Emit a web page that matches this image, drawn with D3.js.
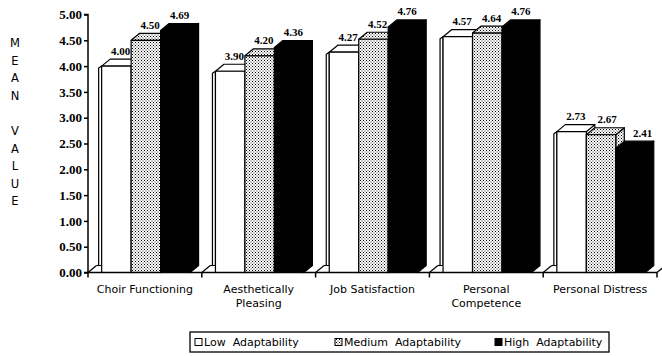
<!DOCTYPE html>
<html>
<head>
<meta charset="utf-8">
<script src="https://cdn.jsdelivr.net/npm/d3@7"></script>
<style>
  body { margin: 0; background: #fff; }
  svg { display: block; }
</style>
</head>
<body>
<svg id="chart" width="662" height="356"></svg>
<script>
// ---- data ----
const categories = ["Choir Functioning", "Aesthetically Pleasing", "Job Satisfaction", "Personal Competence", "Personal Distress"];
const seriesNames = ["Low Adaptability", "Medium Adaptability", "High Adaptability"];
const lowValues = [4.00, 3.90, 4.27, 4.57, 2.73];
const mediumValues = [4.50, 4.20, 4.52, 4.64, 2.67];
const highValues = [4.69, 4.36, 4.76, 4.76, 2.41];
const yTickValues = [0, 0.5, 1, 1.5, 2, 2.5, 3, 3.5, 4, 4.5, 5];
const yTitle = "MEAN VALUE";

const seriesValues = [lowValues, mediumValues, highValues];

// ---- layout ----
const svg = d3.select("#chart");
const sans = "'DejaVu Sans', Verdana, sans-serif";
const serif = "'Liberation Serif', 'Times New Roman', serif";
const depthX = 8.5, depthY = 7;

const x = d3.scaleBand().domain(categories).range([88, 657]);
const bw = x.bandwidth();
const inner = d3.scaleBand().domain(seriesNames).range([bw * 0.12, bw * 0.12 + 3 * bw * 0.259]);
const y = d3.scaleLinear().domain([0, 5]).range([272.5, 14.5]);
const y0 = y(0);

// stipple fill for the middle series
const defs = svg.append("defs");
const pat = defs.append("pattern").attr("id", "stipple")
  .attr("patternUnits", "userSpaceOnUse").attr("width", 3).attr("height", 3);
pat.append("rect").attr("width", 3).attr("height", 3).attr("fill", "#fff");
pat.append("rect").attr("x", 0).attr("y", 0).attr("width", 1).attr("height", 1).attr("fill", "#000");
pat.append("rect").attr("x", 1.5).attr("y", 1.5).attr("width", 1).attr("height", 1).attr("fill", "#222");

const fills = { "Low Adaptability": "#fff", "Medium Adaptability": "url(#stipple)", "High Adaptability": "#000" };

const g = svg.append("g");

// floor marks at each category boundary
const bounds = categories.map(c => x(c)).concat([x(categories[categories.length - 1]) + bw]);
const floor = g.append("g").attr("fill", "none").attr("stroke", "#000").attr("stroke-width", 1.2);
bounds.forEach((t, i) => {
  floor.append("path").attr("d", `M${t},${y0} L${t + depthX},${y0 - depthY}`);
  if (i < categories.length) {
    const firstX = x(categories[i]) + inner(seriesNames[0]);
    floor.append("path").attr("d", `M${t + depthX},${y0 - depthY} L${firstX - 3},${y0 - depthY}`);
  }
});

// 3D bars, drawn left to right so each bar hides the side of the one before
const bars = g.append("g").attr("stroke", "#000").attr("stroke-width", 1.2).attr("stroke-linejoin", "round");
categories.forEach((cat, ci) => {
  seriesNames.forEach((s, si) => {
    const v = seriesValues[si][ci];
    const x0 = x(cat) + inner(s);
    const x1 = x0 + inner.bandwidth();
    const yt = y(v);
    const bar = bars.append("g");
    if (si === 0) {
      // thin left edge strip of the leading bar
      bar.append("path").attr("fill", "#fff")
        .attr("d", `M${x0 - 3},${yt + 2} L${x0 - 3},${y0 - depthY} L${x0},${y0 - depthY} L${x0},${yt} Z`);
    }
    bar.append("path").attr("fill", fills[s])
      .attr("d", `M${x1},${yt} L${x1 + depthX},${yt - depthY} L${x1 + depthX},${y0 - depthY} L${x1},${y0} Z`);
    bar.append("path").attr("fill", fills[s])
      .attr("d", `M${x0},${yt} L${x0 + depthX},${yt - depthY} L${x1 + depthX},${yt - depthY} L${x1},${yt} Z`);
    bar.append("rect").attr("fill", fills[s])
      .attr("x", x0).attr("y", yt).attr("width", x1 - x0).attr("height", y0 - yt);
  });
});

// value labels over the top faces
const fmt = d3.format(".2f");
const labels = g.append("g").attr("font-family", serif).attr("font-weight", "bold")
  .attr("font-size", 11).attr("text-anchor", "middle");
categories.forEach((cat, ci) => {
  seriesNames.forEach((s, si) => {
    const v = seriesValues[si][ci];
    const prev = si > 0 ? seriesValues[si - 1][ci] : null;
    // nudge right when the neighbour on the left stands taller
    const nudge = prev !== null && prev > v ? Math.min(8, (prev - v) * 30) : 0;
    const cx = x(cat) + inner(s) + inner.bandwidth() / 2 + depthX / 2 + nudge;
    const by = y(v) - depthY - 4.5;
    const t = labels.append("text").attr("x", cx).attr("y", by).text(fmt(v));
    if (nudge > 0) {
      const bb = t.node().getBBox();
      labels.insert("rect", () => t.node()).attr("fill", "#fff")
        .attr("x", bb.x - 1).attr("y", bb.y).attr("width", bb.width + 2).attr("height", bb.height);
    }
  });
});

// y axis
const yAxis = g.append("g").attr("transform", "translate(88,0)")
  .call(d3.axisLeft(y).tickValues(yTickValues).tickFormat(d3.format(".2f")).tickSize(4).tickPadding(2));
yAxis.select(".domain").attr("stroke-width", 1.5).attr("d", `M-4,${y(5)}H0V${y0}H-4`);
yAxis.selectAll(".tick line").attr("stroke-width", 1.5);
yAxis.selectAll("text").attr("font-family", serif).attr("font-weight", "bold").attr("font-size", 13).attr("fill", "#000");

// x axis baseline and boundary ticks
const xAxis = g.append("g").attr("stroke", "#000").attr("stroke-width", 1.5);
xAxis.append("line").attr("x1", 88).attr("x2", 657).attr("y1", y0).attr("y2", y0);
bounds.forEach(t => xAxis.append("line").attr("x1", t).attr("x2", t).attr("y1", y0).attr("y2", y0 + 5));

// category labels, wrapped when wider than their band
const catG = g.append("g").attr("font-family", sans).attr("font-size", 11).attr("text-anchor", "middle").attr("fill", "#000");
categories.forEach(cat => {
  const cx = x(cat) + bw / 2;
  const t = catG.append("text").attr("x", cx).attr("y", y0 + 20).text(cat);
  if (t.node().getComputedTextLength() > bw - 4) {
    const words = cat.split(" ");
    t.text(null);
    words.forEach((w, i) => t.append("tspan").attr("x", cx).attr("dy", i ? 14 : 0).text(w));
  }
});

// stacked y title
const titleG = g.append("g").attr("font-family", sans).attr("font-size", 11.5).attr("text-anchor", "middle");
yTitle.split("").forEach((ch, i) => {
  if (ch !== " ") titleG.append("text").attr("x", 15).attr("y", 47 + i * 17.6).text(ch);
});

// legend
const legend = g.append("g");
legend.append("rect").attr("x", 190).attr("y", 332).attr("width", 419).attr("height", 20)
  .attr("fill", "#fff").attr("stroke", "#000").attr("stroke-width", 1.3);
const legendX = [195, 335, 495];
seriesNames.forEach((s, i) => {
  legend.append("rect").attr("x", legendX[i]).attr("y", 338.5).attr("width", 7).attr("height", 7)
    .attr("fill", fills[s]).attr("stroke", "#000").attr("stroke-width", 1);
  legend.append("text").attr("x", legendX[i] + 9).attr("y", 346)
    .attr("font-family", sans).attr("font-size", 11)
    .attr("xml:space", "preserve").text(s.replace(" ", "  "));
});
</script>
</body>
</html>
